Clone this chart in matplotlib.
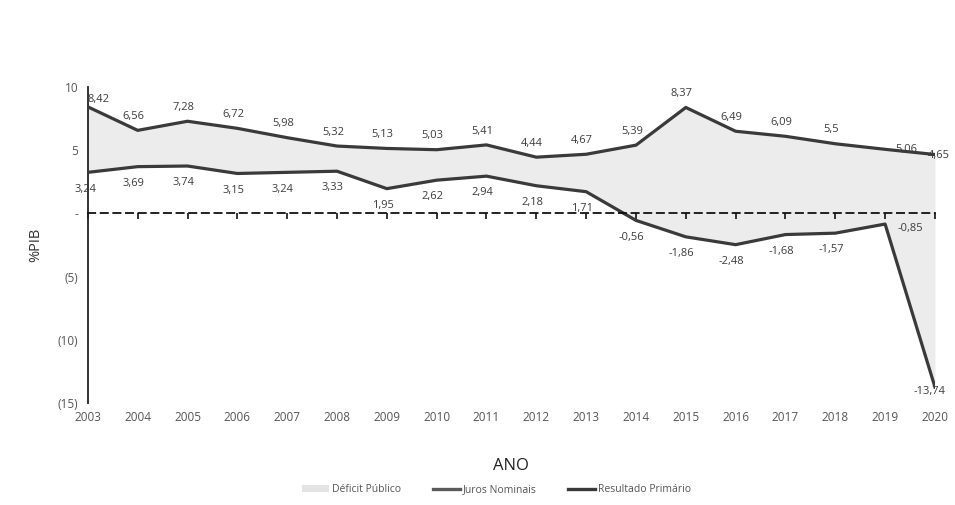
import matplotlib
matplotlib.use("Agg")
import matplotlib.pyplot as plt
from matplotlib.patches import Patch
from matplotlib.lines import Line2D

plt.rcParams["font.family"] = ["Open Sans", "DejaVu Sans"]

# dados (% do PIB)
anos = [2003, 2004, 2005, 2006, 2007, 2008, 2009, 2010, 2011,
        2012, 2013, 2014, 2015, 2016, 2017, 2018, 2019, 2020]
juros_nominais = [8.42, 6.56, 7.28, 6.72, 5.98, 5.32, 5.13, 5.03, 5.41,
                  4.44, 4.67, 5.39, 8.37, 6.49, 6.09, 5.5, 5.06, 4.65]
resultado_primario = [3.24, 3.69, 3.74, 3.15, 3.24, 3.33, 1.95, 2.62, 2.94,
                      2.18, 1.71, -0.56, -1.86, -2.48, -1.68, -1.57, -0.85, -13.74]
y_ticks = [10, 5, 0, -5, -10, -15]
y_tick_labels = ["10", "5", "-", "(5)", "(10)", "(15)"]


def fmt(v):
    return f"{v:g}".replace(".", ",")


LINE = "#3a3a3a"
TXT = "#3c3c3c"

fig = plt.figure(figsize=(9.55, 5.05), dpi=100)
ax = fig.add_axes([0.092, 0.202, 0.887, 0.626])

ax.fill_between(anos, resultado_primario, juros_nominais, color="#ececec",
                linewidth=0, zorder=1)
ax.plot(anos, juros_nominais, color=LINE, linewidth=2.3, zorder=3)
ax.plot(anos, resultado_primario, color=LINE, linewidth=2.3, zorder=3)

# rotulos de dados
off_up = {0: (8, 5), 16: (15, 0), 17: (3, -1)}
off_dn = {0: (-2, -12), 16: (18, -3), 17: (-4, -3)}
for i, (x, v) in enumerate(zip(anos, juros_nominais)):
    dx, dy = off_up.get(i, (-3, 10))
    ax.annotate(fmt(v), (x, v), xytext=(dx, dy), textcoords="offset points",
                ha="center", va="center", fontsize=8, color=TXT, zorder=5,
                annotation_clip=False)
for i, (x, v) in enumerate(zip(anos, resultado_primario)):
    dx, dy = off_dn.get(i, (-3, -12))
    ax.annotate(fmt(v), (x, v), xytext=(dx, dy), textcoords="offset points",
                ha="center", va="center", fontsize=8, color=TXT, zorder=5,
                annotation_clip=False)

ax.set_xlim(anos[0], anos[-1])
ax.set_ylim(-15, 10)

# eixo x tracejado em zero
for s in ["top", "right"]:
    ax.spines[s].set_visible(False)
ax.spines["left"].set_color("#222222")
ax.spines["left"].set_linewidth(1.3)
ax.spines["bottom"].set_position(("data", 0))
ax.spines["bottom"].set_linestyle((0, (4, 3)))
ax.spines["bottom"].set_linewidth(1.3)
ax.spines["bottom"].set_color("#111111")
ax.spines["bottom"].set_zorder(4)
ax.set_xticks(anos)
ax.tick_params(axis="x", direction="out", length=4, width=1.2,
               color="#111111", labelbottom=False)

sec = ax.secondary_xaxis("bottom")
sec.set_xticks(anos)
sec.set_xticklabels([str(a) for a in anos])
sec.tick_params(length=0, pad=6, labelsize=8.5, labelcolor="#555555")
sec.spines["bottom"].set_visible(False)
sec.set_xlabel("ANO", fontsize=12, color="#222222", labelpad=24)

ax.set_yticks(y_ticks)
ax.set_yticklabels(y_tick_labels)
ax.tick_params(axis="y", length=0, pad=7, labelsize=8.5, labelcolor="#555555")
ax.set_ylabel("%PIB", fontsize=10.5, color="#333333", labelpad=10)

handles = [
    Patch(facecolor="#e4e4e4", edgecolor="none", label="Déficit Público"),
    Line2D([], [], color="#5a5a5a", linewidth=2.4, label="Juros Nominais"),
    Line2D([], [], color=LINE, linewidth=2.4, label="Resultado Primário"),
]
fig.legend(handles=handles, loc="center", bbox_to_anchor=(0.52, 0.03), ncol=3,
           frameon=False, fontsize=7.5, labelcolor="#555555", handlelength=2.6,
           handletextpad=0.3, columnspacing=3.0)

fig.savefig("out.png", dpi=100, facecolor="white")
